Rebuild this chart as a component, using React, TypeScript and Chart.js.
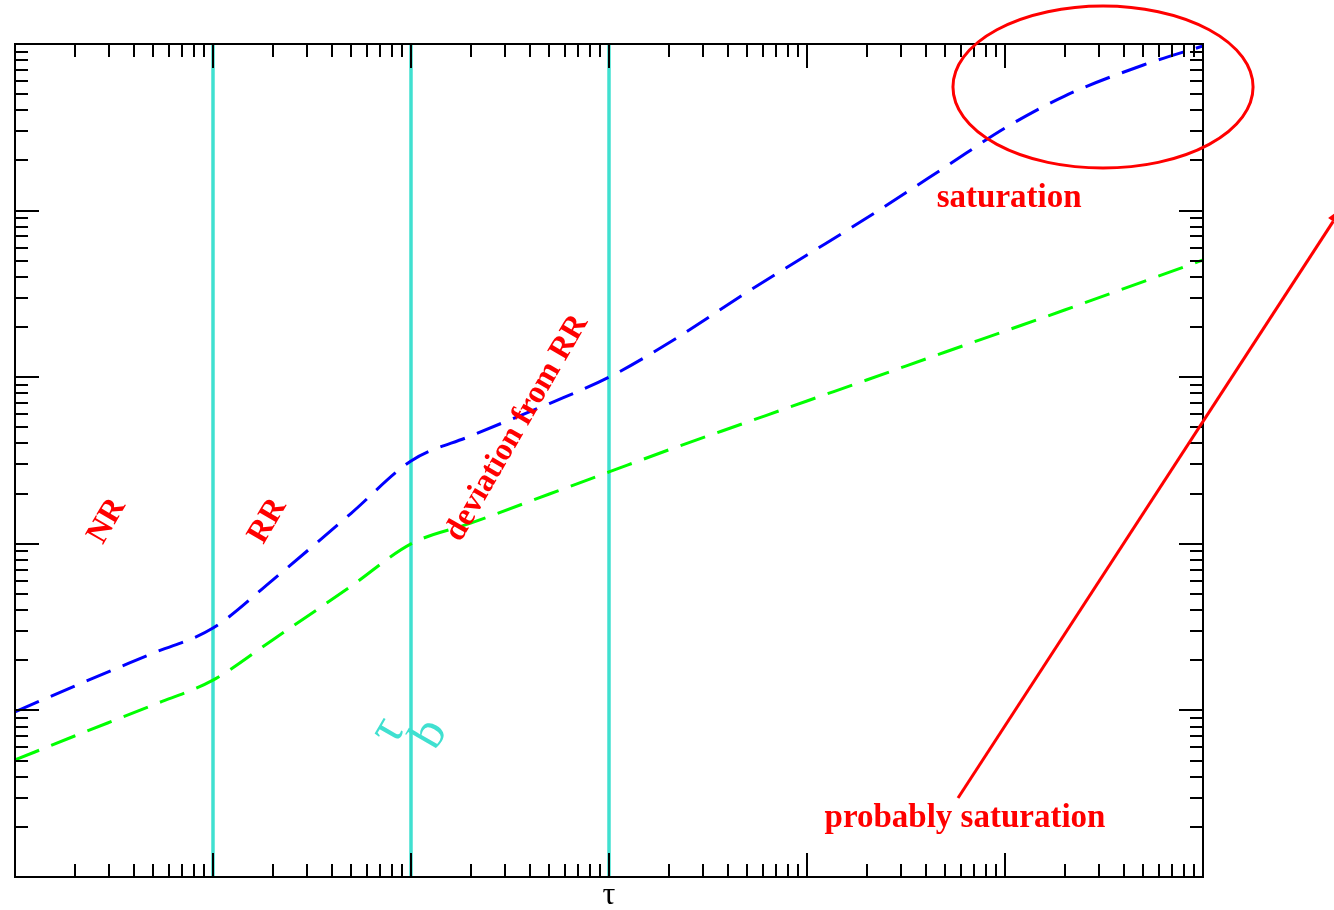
import { useEffect, useRef } from "react";
import { Chart, registerables } from "chart.js";

Chart.register(...registerables);

// Time axis samples (log scale) and the two relaxation curves
const tauValues = [1, 2, 5, 10, 20, 50, 100, 200, 500, 1000, 2000, 5000, 1e4, 2e4, 5e4, 1e5, 2e5, 5e5, 1e6];
const upperCurve = [9.8, 14.0, 22.1, 31.2, 60.6, 153, 314, 444, 695, 1000, 1604, 3246, 5410, 9030, 18270, 31300, 48700, 74800, 97300];
const lowerCurve = [5.04, 7.02, 10.8, 15.2, 26.5, 55.8, 100, 133, 199, 270, 366, 538, 720, 962, 1417, 1893, 2531, 3751, 5050];

// Regime boundaries (vertical markers)
const regimeBoundaries = [10, 100, 1000];

// Axis ranges
const xRange = [1, 1e6];
const yRange = [1, 1e5];

const axisTitle = "τ";

// Text notes placed in data coordinates
const notes = [
  { text: "NR", x: 2.92, y: 137, angle: -60, font: "bold 32px 'Liberation Serif', serif", color: "#ff0000" },
  { text: "RR", x: 18.9, y: 137, angle: -60, font: "bold 32px 'Liberation Serif', serif", color: "#ff0000" },
  { text: "deviation from RR", x: 343, y: 495, angle: -60, font: "bold 32px 'Liberation Serif', serif", color: "#ff0000" },
  { text: "saturation", x: 1.05e5, y: 11900, angle: 0, font: "bold 33px 'Liberation Serif', serif", color: "#ff0000" },
  { text: "probably saturation", x: 62800, y: 2.26, angle: 0, font: "bold 33px 'Liberation Serif', serif", color: "#ff0000" },
  { text: "τ", x: 76.5, y: 7.52, angle: -60, font: "52px 'Liberation Serif', serif", color: "#40e0d0" },
  { text: "b", x: 125, y: 7.2, angle: -60, font: "50px 'Liberation Serif', serif", color: "#40e0d0" },
];

// Ellipse outlining the saturated region (data-space bounding box)
const saturationRing = { xMin: 54600, xMax: 1.79e6, yMin: 18000, yMax: 169000 };

// Arrow pointing from the lower note toward the upper right
const arrow = { fromX: 57900, fromY: 2.98, toX: 5.03e6, toY: 10370 };

const RED = "#ff0000";
const TURQUOISE = "#40e0d0";

function logTicks(min: number, max: number) {
  const out: { v: number; major: boolean }[] = [];
  const e0 = Math.floor(Math.log10(min));
  const e1 = Math.ceil(Math.log10(max));
  for (let e = e0; e <= e1; e++) {
    for (let k = 1; k <= 9; k++) {
      const v = k * Math.pow(10, e);
      if (v >= min * 0.999 && v <= max * 1.001) out.push({ v, major: k === 1 });
    }
  }
  return out;
}

const frameAndNotes = {
  id: "frameAndNotes",
  afterDatasetsDraw(chart: any) {
    const { ctx, chartArea: a, scales } = chart;
    const xs = scales.x;
    const ys = scales.y;
    ctx.save();

    // Frame and inward ticks on all four sides
    ctx.strokeStyle = "#000";
    ctx.lineWidth = 2;
    ctx.strokeRect(a.left, a.top, a.right - a.left, a.bottom - a.top);
    ctx.beginPath();
    for (const t of logTicks(xs.min, xs.max)) {
      const px = Math.round(xs.getPixelForValue(t.v));
      const len = t.major ? 24 : 13;
      ctx.moveTo(px, a.bottom);
      ctx.lineTo(px, a.bottom - len);
      ctx.moveTo(px, a.top);
      ctx.lineTo(px, a.top + len);
    }
    for (const t of logTicks(ys.min, ys.max)) {
      const py = Math.round(ys.getPixelForValue(t.v));
      const len = t.major ? 24 : 13;
      ctx.moveTo(a.left, py);
      ctx.lineTo(a.left + len, py);
      ctx.moveTo(a.right, py);
      ctx.lineTo(a.right - len, py);
    }
    ctx.stroke();

    // Axis title
    ctx.fillStyle = "#000";
    ctx.font = "32px 'Liberation Serif', serif";
    ctx.textAlign = "center";
    ctx.textBaseline = "middle";
    ctx.fillText(axisTitle, (a.left + a.right) / 2, a.bottom + 19);

    // Ellipse
    const ex0 = xs.getPixelForValue(saturationRing.xMin);
    const ex1 = xs.getPixelForValue(saturationRing.xMax);
    const ey0 = ys.getPixelForValue(saturationRing.yMax);
    const ey1 = ys.getPixelForValue(saturationRing.yMin);
    ctx.strokeStyle = RED;
    ctx.lineWidth = 3;
    ctx.beginPath();
    ctx.ellipse((ex0 + ex1) / 2, (ey0 + ey1) / 2, (ex1 - ex0) / 2, (ey1 - ey0) / 2, 0, 0, Math.PI * 2);
    ctx.stroke();

    // Arrow
    const ax0 = xs.getPixelForValue(arrow.fromX);
    const ay0 = ys.getPixelForValue(arrow.fromY);
    const ax1 = xs.getPixelForValue(arrow.toX);
    const ay1 = ys.getPixelForValue(arrow.toY);
    const ang = Math.atan2(ay1 - ay0, ax1 - ax0);
    const headLen = 16;
    const headHalf = 6;
    const bx = ax1 - headLen * Math.cos(ang);
    const by = ay1 - headLen * Math.sin(ang);
    ctx.lineWidth = 3;
    ctx.beginPath();
    ctx.moveTo(ax0, ay0);
    ctx.lineTo(bx, by);
    ctx.stroke();
    ctx.fillStyle = RED;
    ctx.beginPath();
    ctx.moveTo(ax1, ay1);
    ctx.lineTo(bx + headHalf * Math.sin(ang), by - headHalf * Math.cos(ang));
    ctx.lineTo(bx - headHalf * Math.sin(ang), by + headHalf * Math.cos(ang));
    ctx.closePath();
    ctx.fill();

    // Text notes
    for (const n of notes) {
      const px = xs.getPixelForValue(n.x);
      const py = ys.getPixelForValue(n.y);
      ctx.save();
      ctx.translate(px, py);
      ctx.rotate((n.angle * Math.PI) / 180);
      ctx.font = n.font;
      ctx.fillStyle = n.color;
      ctx.textAlign = "center";
      ctx.textBaseline = "middle";
      ctx.fillText(n.text, 0, 0);
      ctx.restore();
    }

    ctx.restore();
  },
};

export default function App() {
  const canvasRef = useRef<HTMLCanvasElement | null>(null);

  useEffect(() => {
    const canvas = canvasRef.current;
    if (!canvas) return;

    const boundarySets = regimeBoundaries.map((b) => ({
      label: `boundary ${b}`,
      data: [
        { x: b, y: yRange[0] },
        { x: b, y: yRange[1] },
      ],
      borderColor: TURQUOISE,
      borderWidth: 3.5,
      pointRadius: 0,
      fill: false,
    }));

    const chart = new Chart(canvas, {
      type: "line",
      data: {
        datasets: [
          {
            label: "upper",
            data: tauValues.map((x, i) => ({ x, y: upperCurve[i] })),
            borderColor: "#0000ff",
            borderWidth: 3,
            borderDash: [26, 13],
            pointRadius: 0,
            cubicInterpolationMode: "monotone",
            fill: false,
          },
          {
            label: "lower",
            data: tauValues.map((x, i) => ({ x, y: lowerCurve[i] })),
            borderColor: "#00ff00",
            borderWidth: 3,
            borderDash: [26, 13],
            pointRadius: 0,
            cubicInterpolationMode: "monotone",
            fill: false,
          },
          ...boundarySets,
        ],
      },
      options: {
        responsive: false,
        animation: false,
        devicePixelRatio: 1,
        layout: { padding: { left: 15, right: 131, top: 44, bottom: 33 } },
        plugins: { legend: { display: false }, tooltip: { enabled: false } },
        scales: {
          x: { type: "logarithmic", min: xRange[0], max: xRange[1], display: false },
          y: { type: "logarithmic", min: yRange[0], max: yRange[1], display: false },
        },
      },
      plugins: [frameAndNotes],
    });

    return () => chart.destroy();
  }, []);

  return (
    <div style={{ position: "fixed", left: 0, top: 0, width: 1334, height: 910, background: "#fff" }}>
      <canvas ref={canvasRef} width={1334} height={910} style={{ width: 1334, height: 910, display: "block" }} />
    </div>
  );
}
